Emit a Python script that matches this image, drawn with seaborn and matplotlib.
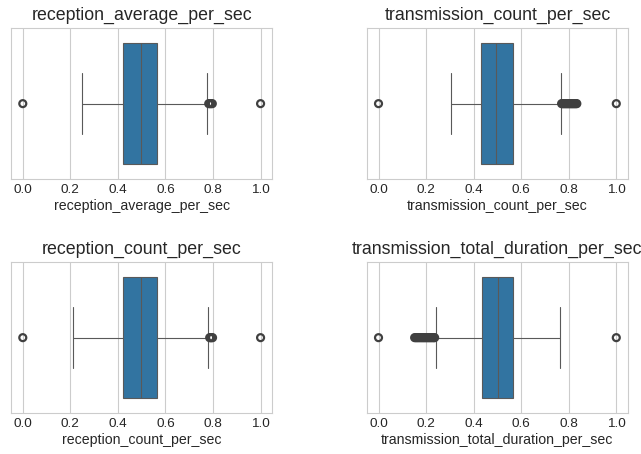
import matplotlib
matplotlib.use("Agg")
import matplotlib.pyplot as plt
import seaborn as sns

# column names of the normalised features
columns = [
    "reception_average_per_sec",
    "transmission_count_per_sec",
    "reception_count_per_sec",
    "transmission_total_duration_per_sec",
]

# five-number summaries: lower whisker, Q1, median, Q3, upper whisker
reception_average_box = [0.251, 0.421, 0.499, 0.563, 0.774]
transmission_count_box = [0.303, 0.430, 0.495, 0.566, 0.766]
reception_count_box = [0.212, 0.421, 0.499, 0.565, 0.780]
transmission_duration_box = [0.241, 0.435, 0.501, 0.566, 0.762]

# outliers
reception_average_out = [0.0, 0.782, 0.787, 0.792, 0.797, 1.0]
transmission_count_out = [0.0, 0.770, 0.774, 0.778, 0.782, 0.786, 0.790, 0.794,
                          0.798, 0.802, 0.806, 0.810, 0.814, 0.818, 0.822, 0.826,
                          0.830, 0.834, 1.0]
reception_count_out = [0.0, 0.786, 0.790, 0.794, 0.798, 1.0]
transmission_duration_out = [0.0, 0.152, 0.157, 0.162, 0.167, 0.172, 0.177, 0.182,
                             0.187, 0.192, 0.197, 0.202, 0.207, 0.212, 0.217, 0.222,
                             0.227, 0.232, 0.236, 1.0]

boxes = [reception_average_box, transmission_count_box,
         reception_count_box, transmission_duration_box]
outliers = [reception_average_out, transmission_count_out,
            reception_count_out, transmission_duration_out]

sns.set_style("whitegrid")
plt.rcParams['font.family'] = ['Liberation Sans', 'DejaVu Sans']

fig, axes = plt.subplots(2, 2, figsize=(6.41, 4.54), dpi=100)
fig.subplots_adjust(left=0.017, right=0.980, top=0.938, bottom=0.090,
                    wspace=0.36, hspace=0.55)

for ax, name, box, out in zip(axes.flat, columns, boxes, outliers):
    sns.boxplot(x=box, ax=ax, showfliers=False, linewidth=0.8, linecolor=".35")
    sns.stripplot(x=out, ax=ax, jitter=False, size=5, color="none",
                  edgecolor=".25", linewidth=1.6, zorder=3)
    ax.set_xlim(-0.05, 1.05)
    ax.set_ylim(0.5, -0.5)
    ax.set_xticks([0.0, 0.2, 0.4, 0.6, 0.8, 1.0])
    ax.tick_params(axis='x', labelsize=9.7, length=0, pad=3.5)
    ax.set_title(name, fontsize=12.8)
    ax.set_xlabel(name, fontsize=10.2, labelpad=2)

fig.savefig("out.png", dpi=100)
